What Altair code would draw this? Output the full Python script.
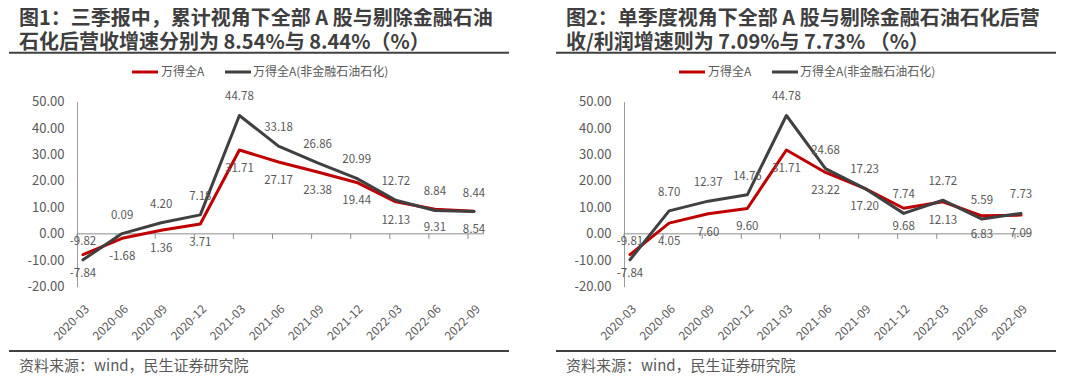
import altair as alt
import pandas as pd

quarters = ["2020-03", "2020-06", "2020-09", "2020-12", "2021-03", "2021-06",
            "2021-09", "2021-12", "2022-03", "2022-06", "2022-09"]
series_names = ["万得全A", "万得全A(非金融石油石化)"]
series_colors = ["#C00000", "#404040"]

cum_all = [-7.84, -1.68, 1.36, 3.71, 31.71, 27.17, 23.38, 19.44, 12.13, 9.31, 8.54]
cum_ex = [-9.82, 0.09, 4.20, 7.18, 44.78, 33.18, 26.86, 20.99, 12.72, 8.84, 8.44]
q_all = [-7.84, 4.05, 7.60, 9.60, 31.71, 23.22, 17.20, 9.68, 12.13, 6.83, 7.09]
q_ex = [-9.81, 8.70, 12.37, 14.76, 44.78, 24.68, 17.23, 7.74, 12.72, 5.59, 7.73]

title_1 = ["图1：三季报中，累计视角下全部 A 股与剔除金融石油",
           "石化后营收增速分别为 8.54%与 8.44%（%）"]
title_2 = ["图2：单季度视角下全部 A 股与剔除金融石油石化后营",
           "收/利润增速则为 7.09%与 7.73% （%）"]
source_text = "资料来源：wind，民生证券研究院"
y_ticks = [-20, -10, 0, 10, 20, 30, 40, 50]

FONT = "Noto Sans CJK SC"
TXT = "#595959"
H = 363


def panel(vals_all, vals_ex, title_lines, width):
    df = pd.DataFrame({
        "q": quarters * 2,
        "s": [series_names[0]] * len(quarters) + [series_names[1]] * len(quarters),
        "v": vals_all + vals_ex,
    })
    df["lab"] = [f"{v:.2f}" for v in df["v"]]

    x = alt.X("q:O", sort=quarters,
              scale=alt.Scale(type="point", range=[74, 465], padding=0),
              axis=alt.Axis(title=None, labelAngle=-45, domain=False, ticks=False,
                            tickSize=0, labelPadding=2, offset=-70, labelFontSize=12,
                            labelColor=TXT, labelFont=FONT, labelOverlap=False,
                            grid=False))
    y = alt.Y("v:Q",
              scale=alt.Scale(domain=[-20, 50], range=[278.7, 93.7], nice=False, zero=False),
              axis=alt.Axis(title=None, values=y_ticks, grid=False, ticks=False, tickSize=0,
                            labelPadding=13, offset=-68, domainColor="#9a9a9a",
                            labelFontSize=13, labelColor=TXT, labelFont=FONT,
                            labelOverlap=False,
                            labelExpr="replace(format(datum.value, '.2f'), '\u2212', '-')"))
    color = alt.Color("s:N", scale=alt.Scale(domain=series_names, range=series_colors),
                      legend=None)

    base = alt.Chart(df).encode(x=x, y=y, color=color)
    line_red = base.transform_filter(alt.datum.s == series_names[0]).mark_line(
        strokeWidth=3, strokeJoin="round", strokeCap="round")
    line_gray = base.transform_filter(alt.datum.s == series_names[1]).mark_line(
        strokeWidth=3, strokeJoin="round", strokeCap="round")
    lab_red = base.transform_filter(alt.datum.s == series_names[0]).mark_text(
        dy=19, fontSize=11.5, font=FONT, color=TXT).encode(text="lab:N", color=alt.value(TXT))
    lab_gray = base.transform_filter(alt.datum.s == series_names[1]).mark_text(
        dy=-18, fontSize=11.5, font=FONT, color=TXT).encode(text="lab:N", color=alt.value(TXT))

    one = pd.DataFrame({"k": [0]})
    zero_line = alt.Chart(one).mark_rule(color="#8c8c8c", strokeWidth=1).encode(
        x=alt.value(68), x2=alt.value(475), y=alt.datum(0))
    ticks = alt.Chart(pd.DataFrame({"q": quarters})).mark_rule(
        color="#8c8c8c", strokeWidth=1, xOffset=-6).encode(
        x=x, y=alt.datum(0), y2=alt.datum(-1.9))

    title_layers = []
    for i, line in enumerate(title_lines):
        title_layers.append(alt.Chart(pd.DataFrame({"t": [line]})).mark_text(
            align="left", baseline="middle", fontSize=20, fontWeight="bold", font=FONT,
            color="#3f3f3f").encode(
            x=alt.value(10), y=alt.value(10.5 + 24.5 * i), text="t:N"))
    top_rule = alt.Chart(one).mark_rule(color="#404040", strokeWidth=2).encode(
        x=alt.value(0), x2=alt.value(500), y=alt.value(44.7))
    bottom_rule = alt.Chart(one).mark_rule(color="#404040", strokeWidth=2).encode(
        x=alt.value(0), x2=alt.value(500), y=alt.value(343))
    source = alt.Chart(pd.DataFrame({"t": [source_text]})).mark_text(
        align="left", baseline="middle", fontSize=15, font=FONT, color=TXT).encode(
        x=alt.value(10), y=alt.value(358), text="t:N")

    leg_layers = []
    leg_pos = [(123, 149, 152), (216, 242, 244)]
    for name, col, (a, b, t) in zip(series_names, series_colors, leg_pos):
        leg_layers.append(alt.Chart(one).mark_rule(color=col, strokeWidth=3).encode(
            x=alt.value(a), x2=alt.value(b), y=alt.value(64)))
        leg_layers.append(alt.Chart(pd.DataFrame({"t": [name]})).mark_text(
            align="left", baseline="middle", fontSize=12, font=FONT, color=TXT).encode(
            x=alt.value(t), y=alt.value(64), text="t:N"))

    return alt.layer(zero_line, ticks, line_red, line_gray, lab_red, lab_gray,
                     *title_layers, top_rule, bottom_rule, source, *leg_layers).properties(
        width=width, height=H)


left = panel(cum_all, cum_ex, title_1, 546)
right = panel(q_all, q_ex, title_2, 510)

chart = alt.hconcat(left, right, spacing=0).properties(padding=0).configure(
    font=FONT).configure_view(stroke=None)

chart.save("out.html", embed_options={"renderer": "svg", "actions": False})
